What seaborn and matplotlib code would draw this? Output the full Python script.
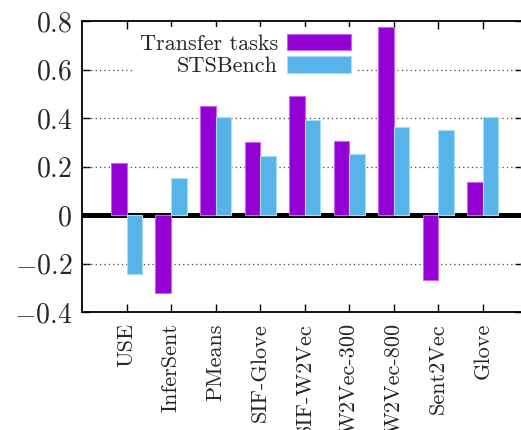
import matplotlib
matplotlib.use("Agg")
import matplotlib.pyplot as plt
import seaborn as sns
import pandas as pd
from matplotlib.patches import Patch
from matplotlib.ticker import FuncFormatter, FixedLocator

# Correlation of each embedding model with downstream results
models = ["USE", "InferSent", "PMeans", "SIF-Glove", "SIF-W2Vec",
          "W2Vec-300", "W2Vec-800", "Sent2Vec", "Glove"]
transfer = [0.214, -0.320, 0.450, 0.300, 0.490, 0.304, 0.776, -0.270, 0.135]
stsbench = [-0.245, 0.151, 0.403, 0.242, 0.392, 0.252, 0.362, 0.352, 0.403]
series = ["Transfer tasks", "STSBench"]
colors = ["#9400d3", "#56b4e9"]
edge_colors = ["#c766f0", "#a8dcf7"]
y_ticks = [-0.4, -0.2, 0, 0.2, 0.4, 0.6, 0.8]

df = pd.DataFrame({
    "model": models * 2,
    "value": transfer + stsbench,
    "series": [series[0]] * len(models) + [series[1]] * len(models),
})

sns.set_theme(style="white")
plt.rcParams["font.family"] = "serif"
plt.rcParams["font.serif"] = ["cmr10"]
plt.rcParams["mathtext.fontset"] = "cm"
plt.rcParams["axes.unicode_minus"] = True

W, H = 521, 430
fig = plt.figure(figsize=(W / 100, H / 100), dpi=100)
ax = fig.add_axes([82 / W, (H - 312) / H, (523 - 82) / W, (312 - 21) / H])

sns.barplot(data=df, x="model", y="value", hue="series", order=models,
            hue_order=series, palette=colors, width=0.7, gap=0,
            saturation=1, errorbar=None, legend=False, ax=ax, zorder=3)

for container, ec in zip(ax.containers, edge_colors):
    for bar in container:
        bar.set_edgecolor(ec)
        bar.set_linewidth(0.8)

ax.set_xlim(-1.0, 8.9)
ax.set_ylim(-0.4, 0.8)
ax.yaxis.set_major_locator(FixedLocator(y_ticks))
ax.yaxis.set_major_formatter(FuncFormatter(lambda v, p: f"${v:g}$"))

# dotted horizontal grid and the heavy zero line
for y in y_ticks[1:-1]:
    if y == 0:
        continue
    ax.axhline(y, color="#444444", lw=0.9, ls=(0, (1, 2.5)), zorder=1)
ax.axhline(0, color="black", lw=3.6, zorder=2)

ax.set_xlabel("")
ax.set_ylabel("")
ax.tick_params(axis="both", which="major", direction="in", length=6,
               width=1.0, color="black", top=True, right=True,
               bottom=True, left=True)
ax.tick_params(axis="x", labelsize=16, pad=8)
ax.tick_params(axis="y", labelsize=20, pad=7)
for lbl in ax.get_xticklabels():
    lbl.set_rotation(90)
    lbl.set_ha("center")
    lbl.set_va("top")
for sp in ax.spines.values():
    sp.set_color("black")
    sp.set_linewidth(1.3)

handles = [Patch(facecolor=c, edgecolor=ec, lw=0.8) for c, ec in zip(colors, edge_colors)]
leg = ax.legend(handles, series, loc="upper right",
                bbox_to_anchor=(358 / W, (H - 27) / H), bbox_transform=fig.transFigure,
                frameon=True, fancybox=False, framealpha=1, edgecolor="none",
                facecolor="white", markerfirst=False, fontsize=16,
                handlelength=2.9, handleheight=0.75, handletextpad=0.4,
                labelspacing=0.12, borderpad=0.3, borderaxespad=0)
leg.set_zorder(5)

fig.savefig("out.png", dpi=100)
